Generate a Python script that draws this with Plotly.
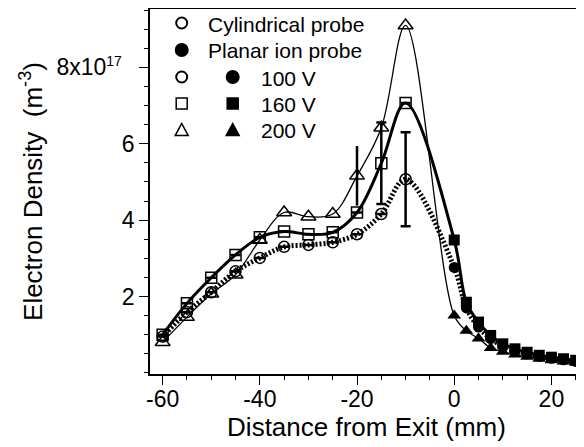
import plotly.graph_objects as go

# ---------------- data ----------------
cyl_x = [-60, -55, -50, -45, -40, -35, -30, -25, -20, -15, -10]
cyl_100 = [0.95, 1.59, 2.11, 2.66, 3.01, 3.30, 3.35, 3.42, 3.63, 4.16, 5.07]
cyl_160 = [1.00, 1.82, 2.49, 3.09, 3.55, 3.70, 3.63, 3.68, 4.20, 5.49, 7.07]
cyl_200 = [0.80, 1.46, 2.07, 2.57, 3.48, 4.20, 4.09, 4.16, 5.16, 6.42, 9.10]

err_100 = [None, None, None, None, None, None, None, None, None, None, 1.23]
err_160 = [None, None, None, None, None, None, None, None, None, 1.07, None]
err_200 = [None, None, None, None, None, None, None, None, 0.78, None, None]

pl_x = [0, 2.5, 5, 7.5, 10, 12.5, 15, 17.5, 20, 22.5, 25]
pl_100 = [2.76, 1.70, 1.20, 0.90, 0.70, 0.58, 0.50, 0.43, 0.38, 0.34, 0.30]
pl_160 = [3.48, 1.85, 1.33, 0.98, 0.76, 0.63, 0.54, 0.46, 0.41, 0.37, 0.33]
pl_200 = [1.50, 1.10, 0.90, 0.65, 0.55, 0.48, 0.42, 0.37, 0.33, 0.30, 0.27]

y_tickvals = [2, 4, 6, 8]
y_ticktext = ["2", "4", "6",
              "8x10<sup><span style='font-size:14px'>17</span></sup>\u00a0\u00a0"]
x_tickvals = [-60, -40, -20, 0, 20]
x_ticktext = ["-60", "-40", "-20", "0", "20"]

legend_rows = ["Cylindrical probe", "Planar ion probe", "100 V", "160 V", "200 V"]

FONT = "Liberation Sans, Arial, Helvetica, sans-serif"
BLACK = "black"

# page body has an 8px default margin: figure coords = window coords - 8
OFF = 8
W, H = 584 - OFF, 447 - OFF
L, R, T, B = 150 - OFF, 583 - OFF, 9 - OFF, 374 - OFF

fig = go.Figure()

# ---------------- fitted curves (spline through both probes) ----------------
fig.add_trace(go.Scatter(x=cyl_x + pl_x, y=cyl_100 + pl_100, mode="lines",
                         line=dict(color=BLACK, width=5, dash="2px,2px", shape="spline"),
                         showlegend=False, hoverinfo="skip"))
fig.add_trace(go.Scatter(x=cyl_x + pl_x, y=cyl_160 + pl_160, mode="lines",
                         line=dict(color=BLACK, width=3, shape="spline"),
                         showlegend=False, hoverinfo="skip"))
fig.add_trace(go.Scatter(x=cyl_x + pl_x, y=cyl_200 + pl_200, mode="lines",
                         line=dict(color=BLACK, width=1.3, shape="spline"),
                         showlegend=False, hoverinfo="skip"))

# ---------------- planar ion probe (filled) ----------------
fig.add_trace(go.Scatter(x=pl_x, y=pl_200, mode="markers",
                         marker=dict(symbol="triangle-up", size=12, color=BLACK),
                         showlegend=False))
fig.add_trace(go.Scatter(x=pl_x, y=pl_100, mode="markers",
                         marker=dict(symbol="circle", size=11, color=BLACK),
                         showlegend=False))
fig.add_trace(go.Scatter(x=pl_x, y=pl_160, mode="markers",
                         marker=dict(symbol="square", size=11, color=BLACK),
                         showlegend=False))

# ---------------- cylindrical probe (open) ----------------
fig.add_trace(go.Scatter(x=cyl_x, y=cyl_200, mode="markers",
                         marker=dict(symbol="triangle-up-open", size=13, color=BLACK,
                                     line=dict(width=1.5, color=BLACK)),
                         error_y=dict(type="data", array=err_200, visible=True,
                                      color=BLACK, thickness=2.5, width=0),
                         showlegend=False))
fig.add_trace(go.Scatter(x=cyl_x, y=cyl_160, mode="markers",
                         marker=dict(symbol="square-open", size=11, color=BLACK,
                                     line=dict(width=1.5, color=BLACK)),
                         error_y=dict(type="data", array=err_160, visible=True,
                                      color=BLACK, thickness=2.5, width=5),
                         showlegend=False))
fig.add_trace(go.Scatter(x=cyl_x, y=cyl_100, mode="markers",
                         marker=dict(symbol="circle-open", size=11, color=BLACK,
                                     line=dict(width=1.5, color=BLACK)),
                         error_y=dict(type="data", array=err_100, visible=True,
                                      color=BLACK, thickness=2.5, width=5),
                         showlegend=False))


# ---------------- custom legend (paper coords, given in window px) ----------------
def px(xp):
    return (xp - OFF - L) / (R - L)


def py(yp):
    return (B - (yp - OFF)) / (B - T)


shapes = []


def circ(xp, yp, r, filled):
    shapes.append(dict(type="circle", xref="paper", yref="paper",
                       xsizemode="pixel", ysizemode="pixel",
                       xanchor=px(xp), yanchor=py(yp),
                       x0=-r, x1=r, y0=-r, y1=r,
                       line=dict(color=BLACK, width=2),
                       fillcolor=BLACK if filled else "white"))


def sq(xp, yp, r, filled):
    shapes.append(dict(type="rect", xref="paper", yref="paper",
                       xsizemode="pixel", ysizemode="pixel",
                       xanchor=px(xp), yanchor=py(yp),
                       x0=-r, x1=r, y0=-r, y1=r,
                       line=dict(color=BLACK, width=1.5),
                       fillcolor=BLACK if filled else "white"))


def tri(xp, yp, r, filled):
    shapes.append(dict(type="path", xref="paper", yref="paper",
                       xsizemode="pixel", ysizemode="pixel",
                       xanchor=px(xp), yanchor=py(yp),
                       path=f"M {-r},{-r*0.85} L {r},{-r*0.85} L 0,{r} Z",
                       line=dict(color=BLACK, width=1.5),
                       fillcolor=BLACK if filled else "white"))


rows_y = [23, 50, 77, 103.5, 130]
c1, c2 = 181.7, 232.7
circ(c1, rows_y[0], 5.5, False)
circ(c1, rows_y[1], 6, True)
circ(c1, rows_y[2], 5.5, False)
circ(c2, rows_y[2], 6, True)
sq(c1, rows_y[3], 5.5, False)
sq(c2, rows_y[3], 5.5, True)
tri(c1, rows_y[4], 6.5, False)
tri(c2, rows_y[4], 6.5, True)

annotations = []
text_x = [205.5, 205.5, 259, 259, 259]
for label, tx, ty in zip(legend_rows, text_x, rows_y):
    annotations.append(dict(text=label, xref="paper", yref="paper",
                            x=px(tx), y=py(ty + 1), xanchor="left", yanchor="middle",
                            showarrow=False, font=dict(family=FONT, size=21, color=BLACK)))

fig.update_layout(
    width=W, height=H,
    margin=dict(l=L, r=W - R, t=T, b=H - B, autoexpand=False),
    paper_bgcolor="white", plot_bgcolor="white",
    font=dict(family=FONT, color=BLACK),
    shapes=shapes, annotations=annotations,
    showlegend=False,
)

fig.update_xaxes(
    range=[-62.6, 26.5], tickvals=x_tickvals, ticktext=x_ticktext,
    ticks="outside", ticklen=9, tickwidth=1.2, tickcolor=BLACK,
    tickfont=dict(family=FONT, size=23, color=BLACK), ticklabelstandoff=-5,
    showline=True, linecolor=BLACK, linewidth=1.5, mirror=True,
    showgrid=False, zeroline=False,
    minor=dict(dtick=5, ticks="outside", ticklen=4, tickcolor=BLACK, showgrid=False),
    title=dict(text="Distance from Exit (mm)", font=dict(family=FONT, size=26, color=BLACK),
               standoff=4),
)
fig.update_yaxes(
    range=[-0.03, 9.53], tickvals=y_tickvals, ticktext=y_ticktext,
    ticks="outside", ticklen=9, tickwidth=1.2, tickcolor=BLACK,
    tickfont=dict(family=FONT, size=23, color=BLACK),
    showline=True, linecolor=BLACK, linewidth=1.5, mirror=True,
    showgrid=False, zeroline=False,
    minor=dict(dtick=0.5, ticks="outside", ticklen=4, tickcolor=BLACK, showgrid=False),
    title=dict(text="Electron Density  (m<sup>-3</sup>)",
               font=dict(family=FONT, size=26, color=BLACK), standoff=6),
)

fig.write_html("out.html")
